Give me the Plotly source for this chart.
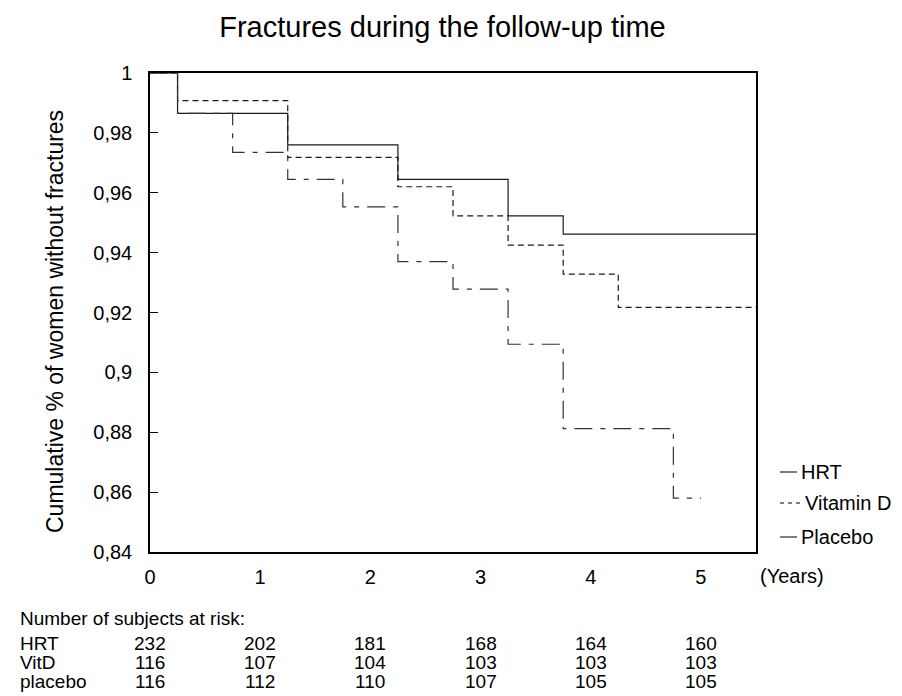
import plotly.graph_objects as go

# ---- data ----
hrt_years = [0, 0.25, 1.25, 2.25, 3.25, 3.75, 5.5]
hrt_surv = [1.0, 0.9865, 0.976, 0.9645, 0.9523, 0.9462, 0.9462]

vitd_years = [0, 0.25, 1.25, 2.25, 2.75, 3.25, 3.75, 4.25, 5.5]
vitd_surv = [1.0, 0.9908, 0.9718, 0.962, 0.9523, 0.9425, 0.9328, 0.9217, 0.9217]

placebo_years = [0, 0.25, 0.75, 1.25, 1.75, 2.25, 2.75, 3.25, 3.75, 4.75, 5.0]
placebo_surv = [1.0, 0.9865, 0.9735, 0.9645, 0.9553, 0.937, 0.9278, 0.9094, 0.8812, 0.858, 0.858]

risk_years = [0, 1, 2, 3, 4, 5]
risk_rows = ["HRT", "VitD", "placebo"]
risk_hrt = [232, 202, 181, 168, 164, 160]
risk_vitd = [116, 107, 104, 103, 103, 103]
risk_placebo = [116, 112, 110, 107, 105, 105]

legend_names = ["HRT", "Vitamin D", "Placebo"]

y_tickvals = [0.84, 0.86, 0.88, 0.9, 0.92, 0.94, 0.96, 0.98, 1.0]
y_ticktext = ["0,84", "0,86", "0,88", "0,9", "0,92", "0,94", "0,96", "0,98", "1"]
x_tickvals = [0, 1, 2, 3, 4, 5]

FONT = "Liberation Sans, Arial, sans-serif"
OFF = 8  # page body margin offset
W, H = 902 - OFF, 696 - OFF
L, T = 150 - OFF, 73 - OFF
PW, PH = 606, 479
R, B = W - L - PW, H - T - PH


def px_x(px):
    # px given in reference (screen) pixels
    return (px - OFF - L) / PW


def px_y(py):
    return (T + PH - (py - OFF)) / PH


fig = go.Figure()
fig.add_trace(go.Scatter(x=hrt_years, y=hrt_surv, mode="lines", line_shape="hv",
                         line=dict(color="#1a1a1a", width=1.2), name=legend_names[0],
                         showlegend=False))
fig.add_trace(go.Scatter(x=vitd_years, y=vitd_surv, mode="lines", line_shape="hv",
                         line=dict(color="#1a1a1a", width=1.2, dash="6px,4px"),
                         name=legend_names[1], showlegend=False))
fig.add_trace(go.Scatter(x=placebo_years, y=placebo_surv, mode="lines", line_shape="hv",
                         line=dict(color="#333333", width=1.2, dash="18px,8px,5px,8px"),
                         name=legend_names[2], showlegend=False))

annotations = []
# y-axis title
annotations.append(dict(text="Cumulative % of women without fractures", textangle=-90,
                        xref="paper", yref="paper", x=px_x(55), y=px_y(322),
                        xanchor="center", yanchor="middle", showarrow=False,
                        font=dict(size=23, color="black", family=FONT)))
# (Years)
annotations.append(dict(text="(Years)", xref="paper", yref="paper", x=px_x(758), y=px_y(576),
                        xanchor="left", yanchor="middle", showarrow=False,
                        font=dict(size=20, color="black", family=FONT)))
# risk table
annotations.append(dict(text="Number of subjects at risk:", xref="paper", yref="paper",
                        x=px_x(18), y=px_y(618), xanchor="left", yanchor="middle",
                        showarrow=False, font=dict(size=19, color="black", family=FONT)))
row_py = [643, 662, 681]
for name, vals, py in zip(risk_rows, [risk_hrt, risk_vitd, risk_placebo], row_py):
    annotations.append(dict(text=name, xref="paper", yref="paper", x=px_x(18), y=px_y(py),
                            xanchor="left", yanchor="middle", showarrow=False,
                            font=dict(size=19, color="black", family=FONT)))
    for yr, v in zip(risk_years, vals):
        annotations.append(dict(text=str(v), xref="x", yref="paper", x=yr, y=px_y(py),
                                xanchor="center", yanchor="middle", showarrow=False,
                                font=dict(size=19, color="black", family=FONT)))

# legend (drawn manually to mimic the original)
leg_py = [472, 503, 537]
leg_dash = ["solid", "4px,4px", "solid"]
shapes = []
for name, py, dash in zip(legend_names, leg_py, leg_dash):
    shapes.append(dict(type="line", xref="paper", yref="paper",
                       x0=px_x(780), x1=px_x(797 if dash == "solid" else 802),
                       y0=px_y(py), y1=px_y(py), line=dict(color="black", width=1, dash=dash)))
    annotations.append(dict(text=name, xref="paper", yref="paper",
                            x=px_x(799 if dash == "solid" else 803), y=px_y(py),
                            xanchor="left", yanchor="middle", showarrow=False,
                            font=dict(size=20, color="black", family=FONT)))

fig.update_layout(
    width=W, height=H,
    margin=dict(l=L, r=R, t=T, b=B, autoexpand=False),
    paper_bgcolor="white", plot_bgcolor="white",
    font=dict(family=FONT, color="black"),
    title=dict(text="Fractures during the follow-up time", x=(442.5 - OFF) / W, xref="container",
               xanchor="center", y=1 - (27 - OFF) / H, yanchor="middle",
               font=dict(size=29, color="black", family=FONT)),
    showlegend=False,
    annotations=annotations,
    shapes=shapes,
)
fig.update_xaxes(range=[0, 5.5], tickvals=x_tickvals, ticks="", showgrid=False, zeroline=False,
                 showline=True, linecolor="black", linewidth=1.5, mirror=True,
                 tickfont=dict(size=20, color="black", family=FONT), ticklabelstandoff=6)
fig.update_yaxes(range=[0.84, 1.0], tickvals=y_tickvals, ticktext=y_ticktext, ticks="inside",
                 ticklen=8, tickwidth=1, tickcolor="black", showgrid=False, zeroline=False,
                 showline=True, linecolor="black", linewidth=1.5, mirror=True,
                 tickfont=dict(size=20, color="black", family=FONT), ticklabelstandoff=12)

fig.write_html("out.html")
